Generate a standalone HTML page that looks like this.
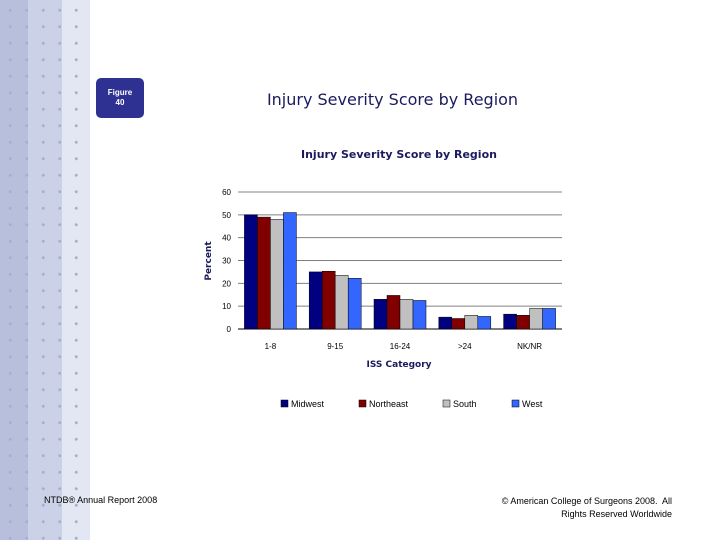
<!DOCTYPE html>
<html><head><meta charset="utf-8"><style>
body{margin:0;width:720px;height:540px;position:relative;background:#fff;font-family:"Liberation Sans",sans-serif;overflow:hidden}
.abs{position:absolute}
</style></head><body>
<div class="abs" style="left:0;top:0;width:90px;height:540px;background:linear-gradient(to right,#b7bfdc 0,#b7bfdc 28px,#cbd2e8 28px,#cbd2e8 62px,#e3e7f4 62px,#e3e7f4 90px)"></div>
<div class="abs" style="left:0;top:0;width:90px;height:540px;background-image:radial-gradient(circle,#a7afd0 1.2px,transparent 1.8px);background-size:16.5px 16.5px;background-position:2px 2px"></div>
<div class="abs" style="left:96px;top:78px;width:48px;height:40px;background:#2e3192;border-radius:5px;color:#fff;font-size:8px;font-weight:bold;text-align:center;line-height:10px;padding-top:10px;box-sizing:border-box">Figure<br>40</div>
<div class="abs" style="left:230px;top:90px;width:325px;text-align:center;font-size:16px;color:#1a1a5e;font-family:'DejaVu Sans',sans-serif">Injury Severity Score by Region</div>
<svg class="abs" style="left:0;top:0" width="720" height="540">
<text x="399" y="158" text-anchor="middle" font-size="11" font-weight="bold" fill="#1a1a5e" font-family="DejaVu Sans,sans-serif">Injury Severity Score by Region</text>
<g id="g"></g>
<text x="399" y="367" text-anchor="middle" font-size="9" font-weight="bold" fill="#1a1a5e" font-family="DejaVu Sans,sans-serif">ISS Category</text>
<text transform="translate(211,261) rotate(-90)" text-anchor="middle" font-size="9" font-weight="bold" fill="#1a1a5e" font-family="DejaVu Sans,sans-serif">Percent</text>
</svg>
<div class="abs" style="left:44px;top:495px;font-size:9px;color:#000">NTDB® Annual Report 2008</div>
<div class="abs" style="left:440px;top:495px;width:232px;text-align:right;font-size:9px;line-height:13px;color:#000">© American College of Surgeons 2008.&nbsp; All<br>Rights Reserved Worldwide</div>
<script>
const categories=["1-8","9-15","16-24",">24","NK/NR"];
const series=["Midwest","Northeast","South","West"];
const midwest=[50,25,13,5.2,6.5];
const northeast=[49,25.3,14.7,4.6,6];
const south=[48,23.5,13,6,9];
const west=[51,22.2,12.5,5.5,9];
const yTicks=[0,10,20,30,40,50,60];
const colors=["#000080","#800000","#c0c0c0","#3366ff"];
const data=[midwest,northeast,south,west];
const NS="http://www.w3.org/2000/svg",g=document.getElementById("g");
const x0=238,x1=562,yb=329,yt=192;
const y=v=>yb-(v/60)*(yb-yt);
const cw=(x1-x0)/categories.length;
function mk(t,a,txt){const e=document.createElementNS(NS,t);for(const k in a)e.setAttribute(k,a[k]);if(txt!=null)e.textContent=txt;g.appendChild(e);return e;}
yTicks.forEach(v=>{
 if(v>0){const l=mk("line",{x1:x0,x2:x1,y1:y(v),y2:y(v),stroke:"#808080","stroke-width":1});
 
 }
 const t=mk("text",{x:231,y:y(v)+3,"text-anchor":"end","font-size":8,fill:"#000"},String(v));
 
 
});
const ax=mk("line",{x1:x0,x2:x1,y1:yb,y2:yb,stroke:"#000"});


const bw=13;
categories.forEach((c,i)=>{
 const gs=x0+i*cw+(cw-bw*4)/2;
 data.forEach((s,j)=>{
  const r=mk("rect",{x:gs+j*bw,y:y(s[i]),width:bw,height:yb-y(s[i]),fill:colors[j],stroke:"#000","stroke-width":0.5});
  
  
 });
 const t=mk("text",{x:x0+i*cw+cw/2,y:349,"text-anchor":"middle","font-size":8,fill:"#000"},c);
 
 
});
const lx=[281,359,443,512];
series.forEach((s,j)=>{
 const r=mk("rect",{x:lx[j],y:400,width:7,height:7,fill:colors[j],stroke:"#000","stroke-width":0.5});
 
 
 const t=mk("text",{x:lx[j]+10,y:407,"font-size":9,fill:"#000"},s);
 
 
});
</script>
</body></html>
